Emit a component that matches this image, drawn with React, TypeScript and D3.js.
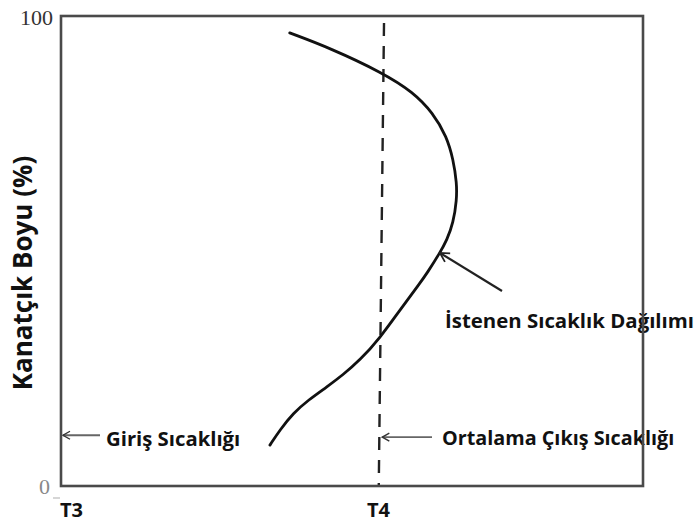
import React from "react";
import * as d3 from "d3";

// Blade height (%) vs. temperature, temperature expressed on a 0–100 scale across the frame
const profileTemp = [39.3, 46.2, 55.3, 60.5, 63.9, 66.3, 67.4, 68.0, 68.0, 67.4, 66.3, 65.1, 62.9, 61.7, 58.2, 54.8, 51.4, 48.4, 45.7, 42.5, 39.9, 37.6, 35.9];
const profileHeight = [96.4, 93.2, 87.9, 83.8, 79.4, 74.3, 69.4, 64.5, 60.9, 56.0, 52.3, 49.6, 45.3, 43.2, 37.4, 31.5, 26.8, 23.6, 21.1, 18.3, 15.5, 11.9, 8.7];

// Mean outlet temperature line (top and bottom positions)
const meanOutletTemp = [55.5, 54.6];
const meanOutletHeight = [98.5, 0];

const yTickValues = [0, 100];
const xTickLabels = ["T3", "T4"];
const xTickTemps = [0, 54.8];

const yAxisTitle = "Kanatçık Boyu (%)";
const inletLabel = "Giriş Sıcaklığı";
const outletLabel = "Ortalama Çıkış Sıcaklığı";
const profileLabel = "İstenen Sıcaklık Dağılımı";

const W = 699;
const H = 523;
const frame = { left: 61, right: 643, top: 16, bottom: 486 };

export default function App() {
  const x = d3.scaleLinear().domain([0, 100]).range([frame.left, frame.right]);
  const y = d3.scaleLinear().domain([0, 100]).range([frame.bottom, frame.top]);

  const pts: [number, number][] = profileTemp.map((t, i) => [t, profileHeight[i]]);
  const line = d3
    .line<[number, number]>()
    .x((d) => x(d[0]))
    .y((d) => y(d[1]))
    .curve(d3.curveBasis);

  const dashPts: [number, number][] = meanOutletTemp.map((t, i) => [t, meanOutletHeight[i]]);
  const straight = d3
    .line<[number, number]>()
    .x((d) => x(d[0]))
    .y((d) => y(d[1]));

  const labelFont = "'Open Sans', sans-serif";

  // arrow pointing at the profile curve
  const tipIdx = 11;
  const tip = [x(profileTemp[tipIdx]), y(profileHeight[tipIdx])];

  const inletY = y(10.8);
  const outletY = y(10.4);
  const dashXAt = (h: number) =>
    x(meanOutletTemp[1] + ((meanOutletTemp[0] - meanOutletTemp[1]) * h) / meanOutletHeight[0]);

  return (
    <svg
      width={W}
      height={H}
      style={{ position: "absolute", left: 0, top: 0, background: "#fff" }}
    >
      <defs>
        <marker
          id="arrowOpen"
          viewBox="-9 -6 10 12"
          refX={0}
          refY={0}
          markerWidth={10}
          markerHeight={12}
          markerUnits="userSpaceOnUse"
          orient="auto"
        >
          <path d="M-7,-4 L0,0 L-7,4" fill="none" stroke="#333" strokeWidth={1.4} />
        </marker>
        <marker
          id="arrowBold"
          viewBox="-11 -7 12 14"
          refX={0}
          refY={0}
          markerWidth={12}
          markerHeight={14}
          markerUnits="userSpaceOnUse"
          orient="auto"
        >
          <path d="M-9,-5 L0,0 L-9,5" fill="none" stroke="#222" strokeWidth={1.8} />
        </marker>
      </defs>

      {/* mean outlet temperature */}
      <path
        d={straight(dashPts) || ""}
        fill="none"
        stroke="#222"
        strokeWidth={2.4}
        strokeDasharray="13,10"
      />

      {/* desired temperature profile */}
      <path d={line(pts) || ""} fill="none" stroke="#111" strokeWidth={2.8} strokeLinecap="round" />

      {/* annotations */}
      <line
        x1={100}
        y1={inletY}
        x2={frame.left + 2}
        y2={inletY}
        stroke="#666"
        strokeWidth={1.8}
        markerEnd="url(#arrowOpen)"
      />
      <text x={106} y={446} fontFamily={labelFont} fontWeight={700} fontSize={20.3} fill="#111">
        {inletLabel}
      </text>

      <line
        x1={432}
        y1={outletY}
        x2={dashXAt(10.4) + 3}
        y2={outletY}
        stroke="#666"
        strokeWidth={1.8}
        markerEnd="url(#arrowOpen)"
      />
      <text x={442} y={445} fontFamily={labelFont} fontWeight={700} fontSize={19.8} fill="#111">
        {outletLabel}
      </text>

      <line
        x1={502}
        y1={291}
        x2={tip[0]}
        y2={tip[1]}
        stroke="#222"
        strokeWidth={2.2}
        markerEnd="url(#arrowBold)"
      />
      <text x={445} y={328} fontFamily={labelFont} fontWeight={700} fontSize={20.4} fill="#111">
        {profileLabel}
      </text>

      {/* frame */}
      <rect
        x={frame.left}
        y={frame.top}
        width={frame.right - frame.left}
        height={frame.bottom - frame.top}
        fill="none"
        stroke="#4a4a4a"
        strokeWidth={2.6}
      />

      {/* y ticks */}
      {yTickValues.map((v) => (
        <text
          key={v}
          x={v === 100 ? 53 : 50}
          y={y(v) + (v === 100 ? 9 : 8)}
          textAnchor="end"
          fontFamily="'Liberation Serif', serif"
          fontSize={22}
          fill={v === 100 ? "#333" : "#888"}
        >
          {v}
        </text>
      ))}
      <line x1={53} y1={498} x2={60} y2={498} stroke="#bbb" strokeWidth={1.2} />

      {/* x tick labels */}
      {xTickLabels.map((lab, i) => (
        <text
          key={lab}
          x={i === 0 ? 60 : x(xTickTemps[i]) - 13}
          y={517}
          fontFamily={labelFont}
          fontWeight={700}
          fontSize={20}
          fill="#111"
        >
          {lab}
        </text>
      ))}

      {/* y axis title */}
      <text
        transform={`translate(32, ${273}) rotate(-90)`}
        textAnchor="middle"
        fontFamily={labelFont}
        fontWeight={700}
        fontSize={26}
        fill="#111"
      >
        {yAxisTitle}
      </text>
    </svg>
  );
}
